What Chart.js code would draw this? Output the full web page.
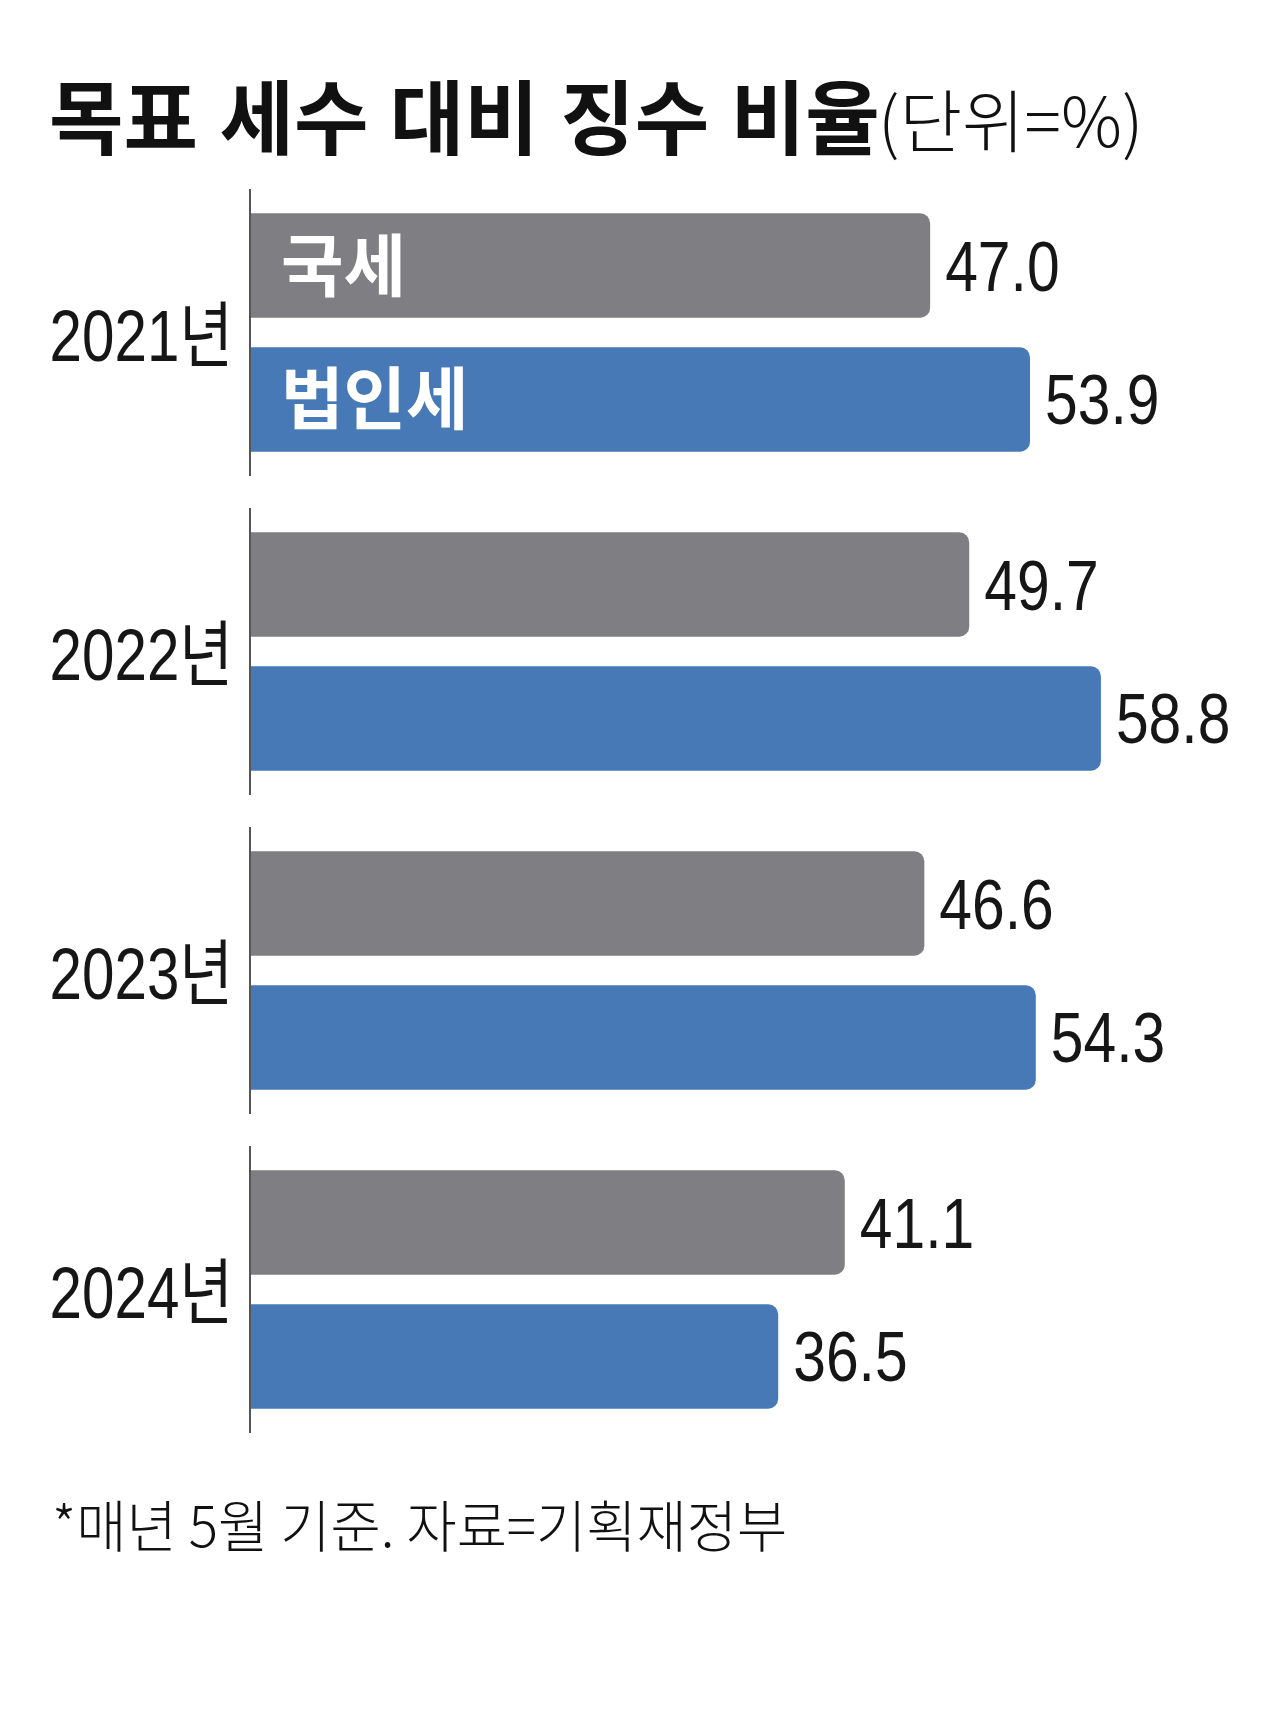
<!DOCTYPE html>
<html>
<head>
<meta charset="utf-8">
<script src="https://cdn.jsdelivr.net/npm/chart.js@4.4.1/dist/chart.umd.min.js"></script>
<style>
  html, body { margin: 0; padding: 0; background: #fff; }
  #wrap { position: relative; width: 1280px; height: 1715px; overflow: hidden; }
  #chart { position: absolute; left: 0; top: 0; }
  .txt { position: absolute; white-space: nowrap; color: #111;
         font-family: "Noto Sans CJK KR", "Liberation Sans", sans-serif; transform-origin: 0 0; }
  #title { left: 49px; top: 72px; font-size: 81px; line-height: 81px; font-weight: 700; word-spacing: 3px; }
  #unit { left: 878px; top: 84px; font-size: 68px; line-height: 68px; font-weight: 300; }
  #note { left: 52px; top: 1495px; font-size: 56px; line-height: 56px; font-weight: 300; transform: scaleX(0.975); }
</style>
</head>
<body>
<div id="wrap">
  <canvas id="chart" width="1280" height="1715"></canvas>
  <div class="txt" id="title">목표 세수 대비 징수 비율</div>
  <div class="txt" id="unit">(단위=%)</div>
  <div class="txt" id="note">*매년 5월 기준. 자료=기획재정부</div>
</div>
<script>
var years = ["2021년", "2022년", "2023년", "2024년"];
var seriesNames = ["국세", "법인세"];
var national = [47.0, 49.7, 46.6, 41.1];
var corporate = [53.9, 58.8, 54.3, 36.5];
var barColors = ["#7f7f83", "#4679b5"];

// draws year labels, the broken axis line, value labels and series names
var labelsPlugin = {
  id: "labels",
  afterDatasetsDraw: function (chart) {
    var ctx = chart.ctx;
    var yScale = chart.scales.y;
    var area = chart.chartArea;
    var step = (area.bottom - area.top) / years.length;

    ctx.save();
    // axis line, one piece per year
    ctx.strokeStyle = "#555555";
    ctx.lineWidth = 2;
    years.forEach(function (y, i) {
      var cy = yScale.getPixelForValue(i);
      ctx.beginPath();
      ctx.moveTo(area.left, cy - step * 0.45);
      ctx.lineTo(area.left, cy + step * 0.45);
      ctx.stroke();
    });

    // year labels
    ctx.fillStyle = "#161616";
    ctx.font = "72px 'Liberation Sans', 'Noto Sans CJK KR'";
    ctx.textAlign = "right";
    ctx.textBaseline = "alphabetic";
    years.forEach(function (y, i) {
      var cy = yScale.getPixelForValue(i);
      ctx.save();
      ctx.translate(area.left - 17, cy + 28);
      ctx.scale(0.81, 1);
      ctx.fillText(y, 0, 0);
      ctx.restore();
    });

    // values at bar ends
    ctx.textAlign = "left";
    ctx.font = "70px 'Liberation Sans'";
    chart.data.datasets.forEach(function (ds, d) {
      var meta = chart.getDatasetMeta(d);
      meta.data.forEach(function (bar, i) {
        ctx.save();
        ctx.translate(bar.x + 15, bar.y + 25);
        ctx.scale(0.84, 1);
        ctx.fillText(ds.data[i].toFixed(1), 0, 0);
        ctx.restore();
      });
    });

    // series names inside the first pair of bars
    ctx.fillStyle = "#ffffff";
    ctx.font = "bold 68px 'Noto Sans CJK KR'";
    chart.data.datasets.forEach(function (ds, d) {
      var bar = chart.getDatasetMeta(d).data[0];
      ctx.fillText(ds.label, area.left + 31, bar.y + 25);
    });
    ctx.restore();
  }
};

new Chart("chart", {
  type: "bar",
  data: {
    labels: years,
    datasets: [{
      label: seriesNames[0],
      data: national,
      backgroundColor: barColors[0]
    }, {
      label: seriesNames[1],
      data: corporate,
      backgroundColor: barColors[1]
    }]
  },
  options: {
    indexAxis: "y",
    responsive: false,
    animation: false,
    devicePixelRatio: 1,
    layout: { padding: { left: 250, right: 17, top: 173, bottom: 266 } },
    datasets: {
      bar: {
        barPercentage: 0.78,
        categoryPercentage: 0.84,
        borderRadius: 10,
        borderSkipped: "start"
      }
    },
    scales: {
      x: { display: false, min: 0, max: 70 },
      y: { display: false }
    },
    plugins: {
      legend: { display: false },
      tooltip: { enabled: false }
    }
  },
  plugins: [labelsPlugin]
});
</script>
</body>
</html>
